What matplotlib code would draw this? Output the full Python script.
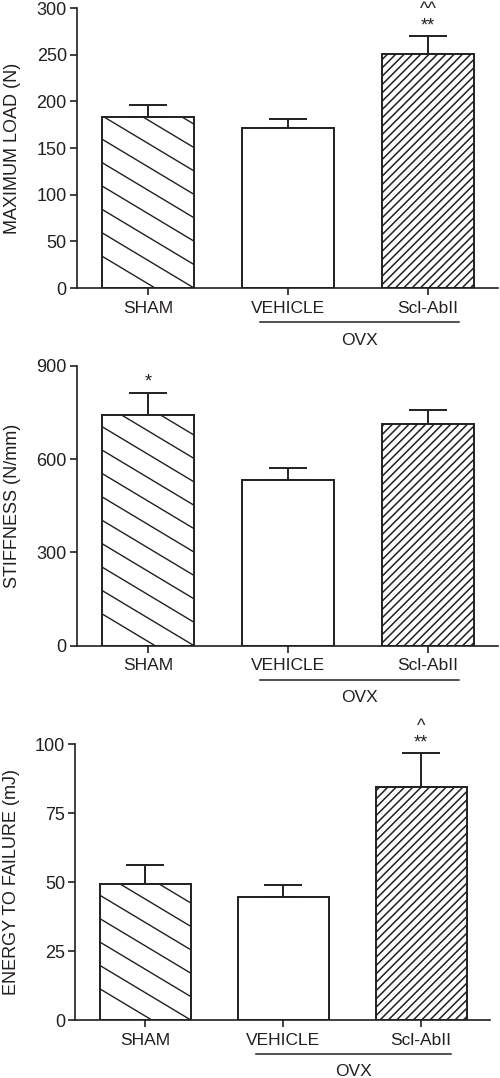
import numpy as np
import matplotlib
matplotlib.use('Agg')
import matplotlib.pyplot as plt
from matplotlib.transforms import IdentityTransform

plt.rcParams['font.family'] = ['Liberation Sans', 'DejaVu Sans']
plt.rcParams['hatch.linewidth'] = 1.1
INK = '#231f20'

groups = ['SHAM', 'VEHICLE', 'Scl-AbII']

load_mean = [183, 171, 251]
load_sem = [13, 10, 19]
stiff_mean = [741, 532, 712]
stiff_sem = [72, 39, 47]
energy_mean = [49.4, 44.4, 84.6]
energy_sem = [6.9, 4.6, 12.1]

panels = [
    dict(mean=load_mean, sem=load_sem, ylabel='MAXIMUM LOAD (N)',
         yticks=[0, 50, 100, 150, 200, 250, 300],
         marks={2: ['**', '^^']},
         pos=[0.153, 0.7328, 0.843, 0.2597]),
    dict(mean=stiff_mean, sem=stiff_sem, ylabel='STIFFNESS (N/mm)',
         yticks=[0, 300, 600, 900],
         marks={0: ['*']},
         pos=[0.153, 0.401, 0.843, 0.2597]),
    dict(mean=energy_mean, sem=energy_sem, ylabel='ENERGY TO FAILURE (mJ)',
         yticks=[0, 25, 50, 75, 100],
         marks={2: ['**', '^']},
         pos=[0.150, 0.0538, 0.830, 0.256]),
]

fig = plt.figure(figsize=(5, 10.78), dpi=100)


def slant_lines(ax, bar, spacing=23.4, slope=-0.6):
    # sparse hatching at a shallow angle, clipped to the bar
    bb = bar.get_window_extent()
    x0, x1, y0, y1 = bb.x0, bb.x1, bb.y0, bb.y1
    xs = np.array([x0 - 5, x1 + 5])
    start = y0 - slope * (x1 - x0) - spacing
    k = 0
    while start + k * spacing < y1 + spacing * 2 + abs(slope) * (x1 - x0):
        c = start + k * spacing
        ys = c + slope * (xs - x0)
        ln, = ax.plot(xs, ys, transform=IdentityTransform(), color=INK,
                      lw=1.0, zorder=3)
        ln.set_clip_path(bar)
        k += 1


x = np.arange(len(groups))
for p in panels:
    ax = fig.add_axes(p['pos'])
    ax.set_xlim(-0.51, 2.5)
    ax.set_ylim(0, p['yticks'][-1])
    bars = ax.bar(x, p['mean'], width=0.66, color='white', edgecolor=INK,
                  linewidth=1.4, zorder=2)
    bars[2].set_hatch('////')
    ax.errorbar(x, p['mean'], yerr=[np.zeros(3), p['sem']], fmt='none',
                ecolor=INK, elinewidth=1.4, capsize=13.5, capthick=1.4,
                zorder=1)
    slant_lines(ax, bars[0])

    for i, labels in p['marks'].items():
        top = p['mean'][i] + p['sem'][i]
        offs = [7.5, 19]
        for j, t in enumerate(labels):
            ax.annotate(t, xy=(x[i], top), xytext=(0, offs[j]),
                        textcoords='offset points', ha='center', va='center',
                        fontsize=13, color=INK)

    ax.spines['top'].set_visible(False)
    ax.spines['right'].set_visible(False)
    for s in ['left', 'bottom']:
        ax.spines[s].set_linewidth(1.2)
        ax.spines[s].set_color(INK)
    ax.set_yticks(p['yticks'])
    ax.set_xticks(x)
    ax.set_xticklabels(groups)
    ax.tick_params(axis='both', direction='out', length=5, width=1.2,
                   color=INK, labelcolor=INK, labelsize=13, pad=2)
    ax.tick_params(axis='x', labelsize=12.5, pad=4)
    ax.set_ylabel(p['ylabel'], fontsize=13, color=INK, labelpad=11)

    # OVX bracket under the two ovariectomised groups
    ax.plot([0.8, 2.22], [-0.123, -0.123], color=INK, lw=1.1,
            transform=ax.get_xaxis_transform(), clip_on=False)
    ax.text(1.51, -0.186, 'OVX', transform=ax.get_xaxis_transform(),
            ha='center', va='center', fontsize=12.5, color=INK)

fig.savefig('out.png', dpi=100)
